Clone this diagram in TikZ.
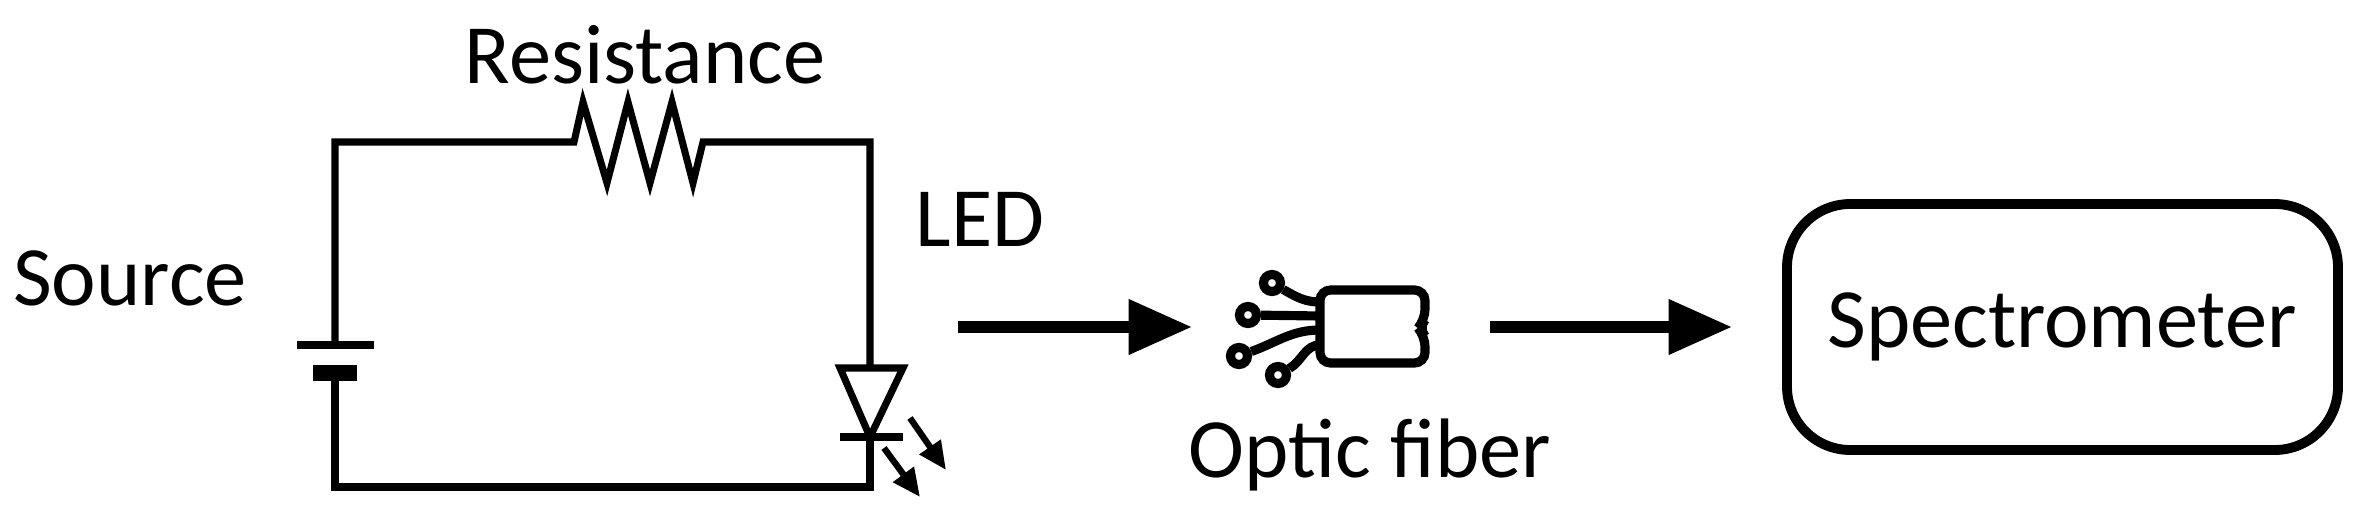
\documentclass[tikz,border=0pt]{standalone}
\usepackage{fontspec}
\setmainfont{Carlito}
\usetikzlibrary{arrows.meta}
\begin{document}
\begin{tikzpicture}[x=0.01cm,y=-0.01cm,
  wire/.style={line width=2pt},
  lbl/.style={font=\fontsize{24}{28}\selectfont, inner sep=0pt},
  bigarrow/.style={line width=3.2pt,-{Triangle[length=18pt,width=15pt]}},
  fib/.style={line width=2.6pt},
  port/.style={draw,circle,fib,minimum size=0.17cm,inner sep=0pt}]
\useasboundingbox (0,0) rectangle (2365,515);
% circuit
\draw[wire] (335,345) -- (335,142) -- (574,142) -- (583,102) -- (607,183) -- (628,102) -- (650,183) -- (672,102) -- (693,183) -- (703,142) -- (870,142) -- (870,368);
\draw[wire] (335,373) -- (335,487) -- (870,487) -- (870,437);
\draw[wire] (297,345) -- (374,345);
\draw[line width=4.5pt] (313,373) -- (357,373);
\draw[wire] (840,368) -- (903,368) -- (870,437) -- cycle;
\draw[wire] (840,437) -- (903,437);
\draw[line width=1.8pt,-{Triangle[length=8pt,width=7pt]}] (884,448) -- (920,497);
\draw[line width=1.8pt,-{Triangle[length=8pt,width=7pt]}] (910,418) -- (946,470);
\node[lbl] (src) at (130,278) {Source};
\node[lbl] (res) at (645,55) {Resistance};
\node[lbl] (led) at (980,219) {LED};
% fiber
\coordinate (ledout) at (958,327);
\draw[fib,rounded corners=3pt] (1320,290) -- (1425,290) -- (1425,320) -- (1418,328) -- (1425,336) -- (1425,363) -- (1320,363) -- cycle;
\node[port] (c1) at (1272,283) {};
\node[port] (c2) at (1248,315) {};
\node[port] (c3) at (1239,356) {};
\node[port] (c4) at (1278,375) {};
\draw[fib] (c1) to[out=-30,in=180] (1320,302);
\draw[fib] (c2) -- (1320,316);
\draw[fib] (c3) to[out=20,in=180] (1320,330);
\draw[fib] (c4) to[out=30,in=180] (1320,345);
\coordinate (fibin) at (1192,327);
\coordinate (fibout) at (1490,327);
\node[lbl] (fl) at (1370,455) {Optic fiber};
\draw[line width=2.8pt,rounded corners=18pt] (1787,204) rectangle (2338,450);
\node[lbl] (spec) at (2062,327) {Spectrometer};
\coordinate (specin) at (1732,327);
\draw[bigarrow] (ledout) -- (fibin);
\draw[bigarrow] (fibout) -- (specin);
\end{tikzpicture}
\end{document}
